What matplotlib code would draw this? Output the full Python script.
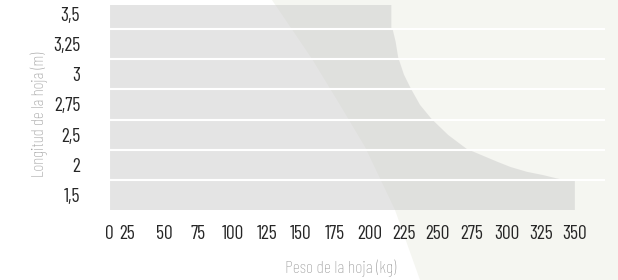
import matplotlib
matplotlib.use("Agg")
import matplotlib.pyplot as plt
from matplotlib.patches import Polygon

# ---------------- data ----------------
LENGTH_LABELS = ["1,5", "2", "2,5", "2,75", "3", "3,25", "3,5"]   # bottom -> top
WEIGHT_TICKS = [0, 25, 50, 75, 100, 125, 150, 175, 200, 225, 250, 275, 300, 325, 350]
MAX_WEIGHT_TOP = 216      # 3,5 m row
MAX_WEIGHT_BOTTOM = 350   # 1,5 m row
# envelope between the rows (kg, row index), bottom -> top
CURVE_KG = [342, 336, 327, 315, 303, 293, 271, 257.5, 245.4, 236.9, 230.1, 225.2, 221, 219.1, 216.9]
CURVE_ROW = [0.5, 0.56, 0.66, 0.77, 0.93, 1.11, 1.53, 1.99, 2.52, 2.99, 3.54, 3.99, 4.56, 5.09, 5.5]

# ---------------- style ----------------
W, H = 618, 280
FONT = ["Barlow Condensed", "Roboto Condensed", "DejaVu Sans"]
plt.rcParams["font.family"] = FONT
plt.rcParams["font.weight"] = "light"
TICK_COLOR = "#262626"
LABEL_COLOR = "#999999"
BEIGE = "#f5f6f1"
BAR_RGBA = (203 / 255, 203 / 255, 203 / 255, 0.5)
BAR_START = 10.6
X_MAX = 372

fig = plt.figure(figsize=(W / 100, H / 100), dpi=100)
fig.patch.set_facecolor("white")

# decorative beige background (figure pixels, from top-left)
bg_px = [(272, 0), (312, 59), (340, 105), (365, 147), (395, 210), (420, 280), (618, 280), (618, 0)]
bg = Polygon([(x / W, 1 - y / H) for x, y in bg_px], closed=True,
             transform=fig.transFigure, facecolor=BEIGE, edgecolor="none", zorder=-5)
fig.patches.append(bg)

left_px, right_px, top_px, bottom_px = 95.5, 605, 5, 210
ax = fig.add_axes([left_px / W, 1 - bottom_px / H, (right_px - left_px) / W, (bottom_px - top_px) / H])
ax.set_zorder(2)
ax.set_facecolor("none")
ax.set_xlim(0, X_MAX)
ax.set_ylim(-0.495, 6.295)

n = len(LENGTH_LABELS)
top_row = n - 1
outline = [(BAR_START, -0.5), (MAX_WEIGHT_BOTTOM, -0.5), (MAX_WEIGHT_BOTTOM, 0.5)]
outline += list(zip(CURVE_KG, CURVE_ROW))
outline += [(MAX_WEIGHT_TOP, top_row - 0.5), (MAX_WEIGHT_TOP, top_row + 0.5), (BAR_START, top_row + 0.5)]
ax.add_patch(Polygon(outline, closed=True, facecolor=BAR_RGBA, edgecolor="none", zorder=1))

# white separators between rows
for k in range(n - 1):
    ax.plot([BAR_START, X_MAX], [k + 0.5, k + 0.5], color="white", lw=1.5,
            solid_capstyle="butt", zorder=2)

for s in ax.spines.values():
    s.set_visible(False)

ax.set_yticks(range(n))
ax.set_yticklabels(LENGTH_LABELS, fontweight="normal")
ax.tick_params(axis="y", length=0, pad=11, labelsize=14, labelcolor=TICK_COLOR)

# x tick labels: the first two are squeezed next to the bar start in the original
tick_pos = list(WEIGHT_TICKS)
tick_pos[0] = 9.9
tick_pos[1] = 22.8
ax.set_xticks(tick_pos)
ax.set_xticklabels([str(v) for v in WEIGHT_TICKS], fontweight="normal")
ax.tick_params(axis="x", length=0, pad=11, labelsize=14, labelcolor=TICK_COLOR)

fig.text(341 / W, 1 - 268 / H, "Peso de la hoja (kg)", ha="center", va="center",
         fontsize=12.8, color=LABEL_COLOR)
fig.text(39 / W, 1 - 114.5 / H, "Longitud de la hoja (m)", ha="center", va="center",
         rotation=90, fontsize=12.3, color=LABEL_COLOR)

fig.savefig("out.png", dpi=100)
